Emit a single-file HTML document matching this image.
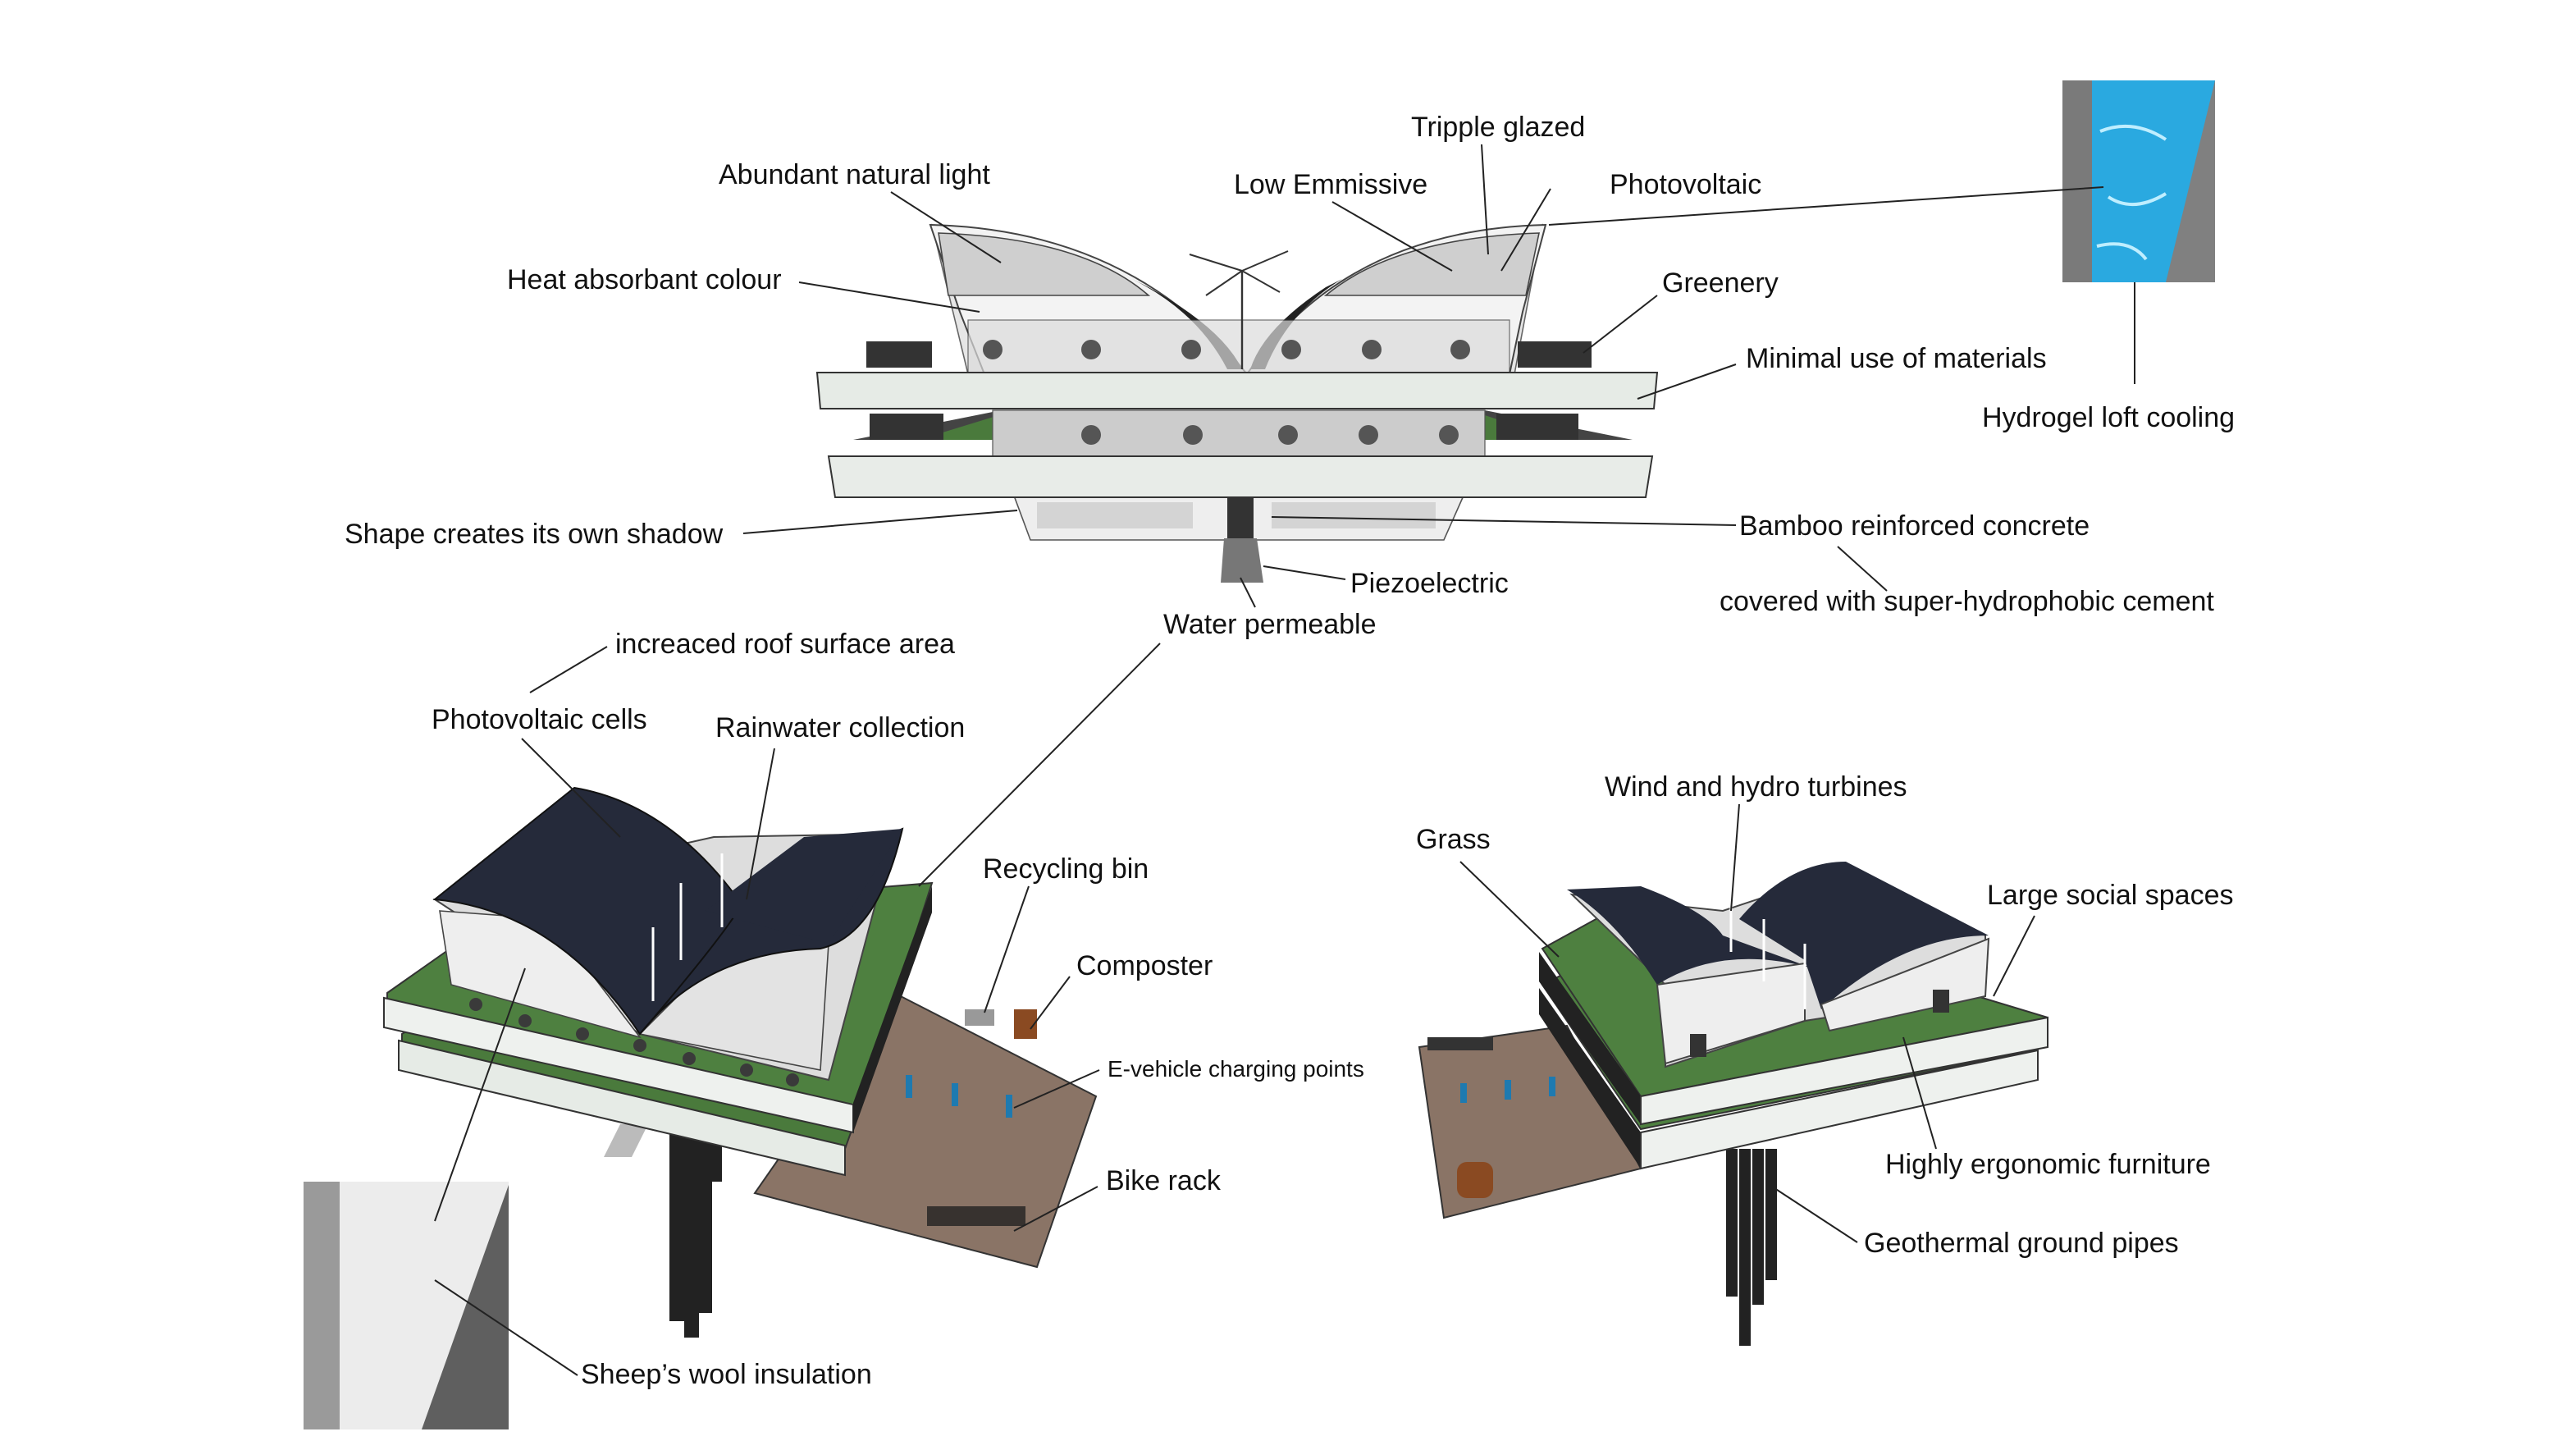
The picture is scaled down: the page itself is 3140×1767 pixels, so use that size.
<!DOCTYPE html>
<html><head><meta charset="utf-8">
<style>html,body{margin:0;padding:0;background:#fff;}svg{display:block;}
text{font-family:"Liberation Sans",sans-serif;font-size:17px;fill:#111;}</style></head>
<body>
<svg width="3140" height="1767" viewBox="0 0 1570 883.5" xmlns="http://www.w3.org/2000/svg">
<rect width="1570" height="883.5" fill="#fff"/>

<!-- ===== Top building ===== -->
<polygon points="618,302 892,302 880,329 628,329" fill="#eee" stroke="#555" stroke-width="0.8"/>
<rect x="632" y="306" width="95" height="16" fill="#d4d4d4"/>
<rect x="775" y="306" width="100" height="16" fill="#d4d4d4"/>
<rect x="748" y="302" width="16" height="26" fill="#333"/>
<polygon points="746,328 766,328 770,355 744,355" fill="#777"/>
<polygon points="520,268 610,250 905,250 995,268" fill="#444"/>
<polygon points="560,268 612,252 902,252 950,268" fill="#4a7a3c"/>
<rect x="605" y="250" width="300" height="28" fill="#ccc" stroke="#555" stroke-width="0.6"/>
<polygon points="505,278 1007,278 1003,303 509,303" fill="#e8ece8" stroke="#333" stroke-width="1"/>
<polygon points="568,137 760,228 940,137 923,228 590,228" fill="#e6e6e6" stroke="#666" stroke-width="0.8"/>
<path d="M567,137 Q690,140 760,228 L600,228 L585,190 Z" fill="#f3f3f3" stroke="#444" stroke-width="1"/>
<path d="M572,142 Q660,145 700,180 L578,180 Z" fill="#cfcfcf" stroke="#444" stroke-width="0.8"/>
<path d="M700,175 Q745,200 757,225 L748,225 Q730,190 690,170 Z" fill="#222"/>
<path d="M942,137 Q820,140 760,228 L920,228 L928,190 Z" fill="#f3f3f3" stroke="#444" stroke-width="1"/>
<path d="M938,142 Q850,145 808,180 L930,180 Z" fill="#cfcfcf" stroke="#444" stroke-width="0.8"/>
<path d="M808,175 Q770,200 762,225 L771,225 Q785,190 818,170 Z" fill="#222"/>
<rect x="590" y="195" width="330" height="32" fill="#dcdcdc" opacity="0.7" stroke="#333" stroke-width="0.6"/>
<line x1="757" y1="225" x2="757" y2="165" stroke="#333" stroke-width="1.2"/>
<path d="M757,165 L725,155 M757,165 L785,153 M757,165 L735,180 M757,165 L780,178" stroke="#333" stroke-width="1"/>
<g fill="#333">
<rect x="528" y="208" width="40" height="16"/><rect x="925" y="208" width="45" height="16"/>
<rect x="530" y="252" width="45" height="16"/><rect x="912" y="252" width="50" height="16"/>
</g>
<g fill="#555">
<circle cx="605" cy="213" r="6"/><circle cx="665" cy="213" r="6"/><circle cx="726" cy="213" r="6"/><circle cx="787" cy="213" r="6"/><circle cx="836" cy="213" r="6"/><circle cx="890" cy="213" r="6"/>
<circle cx="665" cy="265" r="6"/><circle cx="727" cy="265" r="6"/><circle cx="785" cy="265" r="6"/><circle cx="834" cy="265" r="6"/><circle cx="883" cy="265" r="6"/>
</g>
<polygon points="498,227 1010,227 1008,249 500,249" fill="#e6ebe6" stroke="#333" stroke-width="1"/>

<!-- hydrogel square -->
<rect x="1257" y="49" width="93" height="123" fill="#2aa9e0"/>
<rect x="1257" y="49" width="18" height="123" fill="#7a7a7a"/>
<polygon points="1350,49 1350,172 1320,172" fill="#808080"/>
<path d="M1280,80 q20,-8 40,5 M1285,120 q15,10 35,-2 M1278,150 q20,-5 30,8" stroke="#bfeeff" stroke-width="2" fill="none"/>

<!-- sheep's wool square -->
<rect x="185" y="720" width="125" height="151" fill="#ececec"/>
<rect x="185" y="720" width="22" height="151" fill="#9a9a9a"/>
<polygon points="310,722 310,871 257,871" fill="#5f5f5f"/>

<!-- ===== Bottom-left building ===== -->
<polygon points="545,605 668,668 632,772 460,727" fill="#8a7466" stroke="#333" stroke-width="1"/>
<g fill="#222"><rect x="408" y="690" width="9" height="115"/><rect x="417" y="690" width="9" height="125"/><rect x="426" y="690" width="8" height="110"/><rect x="434" y="690" width="6" height="30"/></g>
<polygon points="378,685 395,685 385,705 368,705" fill="#bbb"/>
<polygon points="245,630 320,585 565,560 515,700 245,650" fill="#4a7a3c" stroke="#333" stroke-width="1"/>
<polygon points="243,634 515,698 515,716 243,652" fill="#e6ebe6" stroke="#333" stroke-width="1"/>
<polygon points="236,605 300,560 568,538 520,688 236,620" fill="#4e8040" stroke="#333" stroke-width="1"/>
<polygon points="234,608 520,673 520,690 234,626" fill="#eef1ee" stroke="#333" stroke-width="1"/>
<polygon points="520,672 568,540 568,556 520,690" fill="#222"/>
<polygon points="265,548 390,630 505,658 545,508 435,510" fill="#ddd" stroke="#444" stroke-width="1"/>
<polygon points="268,555 335,560 390,632 275,600" fill="#eee" stroke="#444" stroke-width="0.8"/>
<polygon points="390,630 440,580 505,575 500,652" fill="#e3e3e3" stroke="#444" stroke-width="0.8"/>
<path d="M265,548 L350,480 Q410,490 455,555 L390,630 Q340,555 265,548 Z" fill="#252a3a" stroke="#111"/>
<path d="M390,630 Q450,560 455,545 L550,505 Q535,570 500,578 Q430,580 390,630 Z" fill="#252a3a" stroke="#111"/>
<path d="M430,555 L490,510 L550,505 L505,575 Z" fill="#252a3a"/>
<g stroke="#fff" stroke-width="1.5"><line x1="398" y1="565" x2="398" y2="610"/><line x1="415" y1="538" x2="415" y2="585"/><line x1="440" y1="520" x2="440" y2="565"/></g>
<g fill="#3a3a3a"><circle cx="290" cy="612" r="4"/><circle cx="320" cy="622" r="4"/><circle cx="355" cy="630" r="4"/><circle cx="390" cy="637" r="4"/><circle cx="420" cy="645" r="4"/><circle cx="455" cy="652" r="4"/><circle cx="483" cy="658" r="4"/></g>
<g fill="#1e7ab0"><rect x="552" y="655" width="4" height="14"/><rect x="580" y="660" width="4" height="14"/><rect x="613" y="667" width="4" height="14"/></g>
<rect x="588" y="615" width="18" height="10" fill="#999"/>
<rect x="618" y="615" width="14" height="18" fill="#8a4a22"/>
<rect x="565" y="735" width="60" height="12" fill="#222" opacity="0.8"/>

<!-- ===== Bottom-right building ===== -->
<polygon points="865,638 955,625 1000,712 880,742" fill="#8a7466" stroke="#333" stroke-width="1"/>
<rect x="888" y="708" width="22" height="22" rx="6" fill="#8a4a22"/>
<g fill="#1e7ab0"><rect x="890" y="660" width="4" height="12"/><rect x="917" y="658" width="4" height="12"/><rect x="944" y="656" width="4" height="12"/></g>
<rect x="870" y="632" width="40" height="8" fill="#333"/>
<g fill="#222"><rect x="1052" y="700" width="7" height="90"/><rect x="1060" y="700" width="7" height="120"/><rect x="1068" y="700" width="7" height="95"/><rect x="1076" y="700" width="7" height="80"/></g>
<polygon points="940,600 1000,570 1240,640 1000,688" fill="#4e8040" stroke="#333"/>
<polygon points="938,602 1000,690 1000,712 938,618" fill="#222"/>
<polygon points="1000,690 1242,640 1242,658 1000,712" fill="#eef1ee" stroke="#333"/>
<polygon points="940,578 1000,545 1248,620 1000,668" fill="#4e8040" stroke="#333"/>
<polygon points="938,580 1000,668 1000,685 938,598" fill="#222"/>
<polygon points="1000,668 1248,620 1248,638 1000,685" fill="#eef1ee" stroke="#333"/>
<polygon points="958,545 1015,600 1015,650 1100,622 1210,605 1210,570 1125,530 1050,555" fill="#ddd" stroke="#444"/>
<path d="M955,542 L1000,540 Q1040,555 1050,570 L1105,590 Q1050,575 1010,600 Q985,560 955,542 Z" fill="#252a3a"/>
<path d="M1060,560 Q1090,525 1125,525 L1212,570 Q1160,570 1110,615 L1100,585 Z" fill="#252a3a"/>
<polygon points="1010,600 1100,587 1100,622 1015,648" fill="#eee" stroke="#444"/>
<polygon points="1110,612 1212,572 1210,607 1115,628" fill="#eee" stroke="#444"/>
<g stroke="#fff" stroke-width="1.5"><line x1="1055" y1="550" x2="1055" y2="580"/><line x1="1075" y1="560" x2="1075" y2="598"/><line x1="1100" y1="575" x2="1100" y2="615"/></g>
<rect x="1030" y="630" width="10" height="14" fill="#333"/><rect x="1178" y="603" width="10" height="14" fill="#333"/>

<!-- ===== Leader lines ===== -->
<g stroke="#222" stroke-width="1" fill="none">
<line x1="543" y1="117" x2="610" y2="160"/>
<line x1="487" y1="172" x2="597" y2="190"/>
<line x1="453" y1="325" x2="620" y2="311"/>
<line x1="812" y1="123" x2="885" y2="165"/>
<line x1="903" y1="88" x2="907" y2="155"/>
<line x1="945" y1="115" x2="915" y2="165"/>
<line x1="944" y1="137" x2="1282" y2="114"/>
<line x1="1301" y1="172" x2="1301" y2="234"/>
<line x1="1010" y1="180" x2="965" y2="215"/>
<line x1="1058" y1="222" x2="998" y2="243"/>
<line x1="1058" y1="320" x2="775" y2="315"/>
<line x1="1120" y1="333" x2="1150" y2="360"/>
<line x1="820" y1="353" x2="770" y2="345"/>
<line x1="765" y1="370" x2="756" y2="352"/>
<line x1="707" y1="392" x2="560" y2="540"/>
<line x1="370" y1="394" x2="323" y2="422"/>
<line x1="318" y1="450" x2="378" y2="510"/>
<line x1="472" y1="456" x2="455" y2="548"/>
<line x1="627" y1="540" x2="600" y2="617"/>
<line x1="652" y1="595" x2="628" y2="627"/>
<line x1="670" y1="652" x2="618" y2="675"/>
<line x1="669" y1="723" x2="618" y2="750"/>
<line x1="320" y1="590" x2="265" y2="744"/>
<line x1="265" y1="780" x2="352" y2="838"/>
<line x1="890" y1="525" x2="950" y2="583"/>
<line x1="1060" y1="490" x2="1055" y2="555"/>
<line x1="1240" y1="558" x2="1215" y2="607"/>
<line x1="1180" y1="700" x2="1160" y2="632"/>
<line x1="1132" y1="757" x2="1080" y2="723"/>
</g>

<!-- ===== Labels ===== -->
<text x="438" y="112">Abundant natural light</text>
<text x="309" y="176">Heat absorbant colour</text>
<text x="210" y="331">Shape creates its own shadow</text>
<text x="860" y="83">Tripple glazed</text>
<text x="752" y="118">Low Emmissive</text>
<text x="981" y="118">Photovoltaic</text>
<text x="1013" y="178">Greenery</text>
<text x="1064" y="224">Minimal use of materials</text>
<text x="1208" y="260">Hydrogel loft cooling</text>
<text x="1060" y="326">Bamboo reinforced concrete</text>
<text x="1048" y="372">covered with super-hydrophobic cement</text>
<text x="823" y="361">Piezoelectric</text>
<text x="709" y="386">Water permeable</text>
<text x="375" y="398">increaced roof surface area</text>
<text x="263" y="444">Photovoltaic cells</text>
<text x="436" y="449">Rainwater collection</text>
<text x="599" y="535">Recycling bin</text>
<text x="656" y="594">Composter</text>
<text x="675" y="656" style="font-size:14px">E-vehicle charging points</text>
<text x="674" y="725">Bike rack</text>
<text x="354" y="843">Sheep’s wool insulation</text>
<text x="978" y="485">Wind and hydro turbines</text>
<text x="863" y="517">Grass</text>
<text x="1211" y="551">Large social spaces</text>
<text x="1149" y="715">Highly ergonomic furniture</text>
<text x="1136" y="763">Geothermal ground pipes</text>
</svg>
</body></html>
